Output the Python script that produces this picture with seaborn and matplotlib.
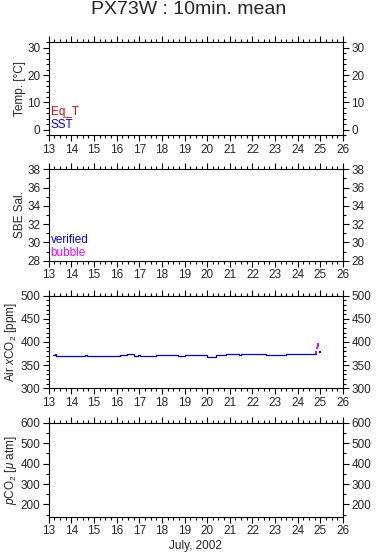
import matplotlib
matplotlib.use("Agg")
import matplotlib.pyplot as plt
import seaborn as sns
import pandas as pd
from matplotlib.ticker import MultipleLocator

sns.set_style("ticks")
plt.rcParams['font.family'] = ['Liberation Sans', 'DejaVu Sans']
plt.rcParams['mathtext.fontset'] = 'custom'
plt.rcParams['mathtext.it'] = 'Liberation Sans:italic'
plt.rcParams['mathtext.rm'] = 'Liberation Sans'

title = "PX73W : 10min. mean"
xlabel = "July, 2002"

# Air xCO2 (verified), step breakpoints: day of July, ppm
air_day = [13.20, 13.27, 13.33, 14.60, 14.70, 16.15, 16.45, 16.75, 16.95, 17.05,
           17.75, 18.70, 19.00, 20.00, 20.40, 20.85, 21.40, 21.50, 22.60, 23.50, 24.80]
air_val = [372, 374, 370, 371.5, 370, 371.5, 373.5, 370, 371.5, 370,
           371.5, 370, 371.5, 368.5, 371.5, 373.5, 372, 373.5, 372, 373.5, 373.5]
# bubble flagged points
bub_day = [24.80, 24.82, 24.85, 24.88, 24.91]
bub_val = [377, 378, 388, 391, 395]
# isolated verified point
iso_day = [25.0]
iso_val = [378]

W, H = 378, 558
fig = plt.figure(figsize=(W / 100, H / 100), dpi=100)

def frac(top, bottom):
    return [48.7 / W, 1 - bottom / H, (343 - 48.7) / W, (bottom - top) / H]

panels = [
    dict(pos=frac(42.3, 135.3), ylim=(-2, 32), major=10, minor=2, label="Temp. [°C]"),
    dict(pos=frac(169.3, 260.7), ylim=(28, 38), major=2, minor=1, label="SBE Sal."),
    dict(pos=frac(295.7, 388.3), ylim=(300, 500), major=50, minor=10, label="Air $x$CO$_2$ [ppm]"),
    dict(pos=frac(422.7, 516.7), ylim=(140, 600), major=100, minor=50, label="$p$CO$_2$ [$\\mu$ atm]"),
]

axes = []
for p in panels:
    ax = fig.add_axes(p["pos"])
    ax.set_xlim(13, 26)
    ax.set_ylim(*p["ylim"])
    ax.xaxis.set_major_locator(MultipleLocator(1))
    ax.xaxis.set_minor_locator(MultipleLocator(0.25))
    ax.yaxis.set_major_locator(MultipleLocator(p["major"]))
    ax.yaxis.set_minor_locator(MultipleLocator(p["minor"]))
    ax.tick_params(which="both", direction="out", top=True, right=True,
                   labelright=True, labelsize=8.5, color="black", width=0.8)
    ax.tick_params(which="major", length=4, pad=2)
    ax.tick_params(which="minor", length=2.5)
    for s in ax.spines.values():
        s.set_visible(True)
        s.set_color("black")
        s.set_linewidth(0.8)
    ax.set_ylabel(p["label"], fontsize=8.5, labelpad=1)
    axes.append(ax)

ax1, ax2, ax3, ax4 = axes
ax1.text(13.08, 4.5, "Eq_T", color="red", fontsize=8.5, va="bottom")
ax1.text(13.08, -0.5, "SST", color="blue", fontsize=8.5, va="bottom")
ax2.text(13.08, 29.6, "verified", color="blue", fontsize=8.5, va="bottom")
ax2.text(13.08, 28.2, "bubble", color="magenta", fontsize=8.5, va="bottom")

air_df = pd.DataFrame({"day": air_day, "xco2": air_val})
sns.lineplot(data=air_df, x="day", y="xco2", ax=ax3, color="blue", lw=0.9,
             drawstyle="steps-post", estimator=None)
bub_df = pd.DataFrame({"day": bub_day, "xco2": bub_val})
sns.scatterplot(data=bub_df, x="day", y="xco2", ax=ax3, color="magenta", s=3,
                marker="s", linewidth=0)
iso_df = pd.DataFrame({"day": iso_day, "xco2": iso_val})
sns.scatterplot(data=iso_df, x="day", y="xco2", ax=ax3, color="blue", s=2,
                marker="s", linewidth=0)
ax3.set_ylabel("Air $x$CO$_2$ [ppm]", fontsize=8.5, labelpad=1)

for ax in axes:
    ax.set_xlabel("")
ax4.set_xlabel(xlabel, fontsize=8.5, labelpad=2)

fig.text(0.5, 1 - 14.5 / H, title, ha="center", va="baseline", fontsize=14)

fig.savefig("out.png", dpi=100)
